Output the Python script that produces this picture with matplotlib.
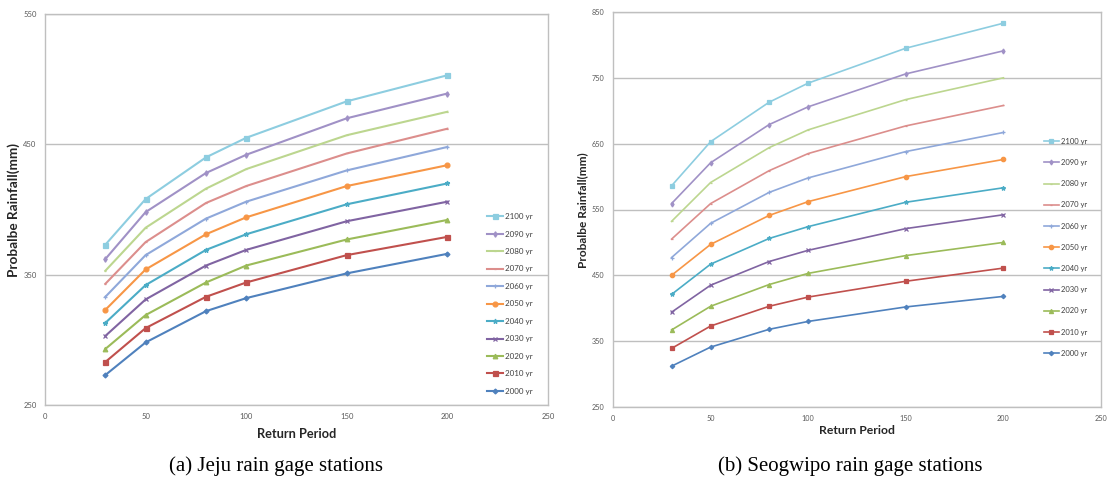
import matplotlib
matplotlib.use("Agg")
import matplotlib.pyplot as plt

return_periods = [30, 50, 80, 100, 150, 200]
series_labels = ["2100 yr", "2090 yr", "2080 yr", "2070 yr", "2060 yr",
                 "2050 yr", "2040 yr", "2030 yr", "2020 yr", "2010 yr", "2000 yr"]

jeju = {
    "2100 yr": [373, 408, 440, 455, 483, 503],
    "2090 yr": [362, 398, 428, 442, 470, 489],
    "2080 yr": [353, 386, 416, 431, 457, 475],
    "2070 yr": [343, 375, 405, 418, 443, 462],
    "2060 yr": [333, 365, 393, 406, 430, 448],
    "2050 yr": [323, 354, 381, 394, 418, 434],
    "2040 yr": [313, 342, 369, 381, 404, 420],
    "2030 yr": [303, 331, 357, 369, 391, 406],
    "2020 yr": [293, 319, 344, 357, 377, 392],
    "2010 yr": [283, 309, 333, 344, 365, 379],
    "2000 yr": [273, 298, 322, 332, 351, 366],
}

seogwipo = {
    "2100 yr": [586, 653, 713, 742, 795, 833],
    "2090 yr": [559, 621, 679, 706, 756, 791],
    "2080 yr": [532, 591, 644, 671, 717, 750],
    "2070 yr": [505, 559, 609, 635, 677, 708],
    "2060 yr": [477, 529, 576, 598, 638, 667],
    "2050 yr": [450, 497, 541, 562, 600, 626],
    "2040 yr": [421, 467, 506, 524, 561, 583],
    "2030 yr": [394, 435, 471, 488, 521, 542],
    "2020 yr": [367, 403, 436, 453, 480, 500],
    "2010 yr": [339, 373, 403, 417, 441, 461],
    "2000 yr": [312, 341, 368, 380, 402, 418],
}

captions = ["(a) Jeju rain gage stations", "(b) Seogwipo rain gage stations"]

colors = {
    "2000 yr": "#4F81BD", "2010 yr": "#C0504D", "2020 yr": "#9BBB59",
    "2030 yr": "#8064A2", "2040 yr": "#4BACC6", "2050 yr": "#F79646",
    "2060 yr": "#8FA8DA", "2070 yr": "#DC8E8C", "2080 yr": "#BCD68F",
    "2090 yr": "#A091C6", "2100 yr": "#8DCDE0",
}
markers = {
    "2000 yr": "D", "2010 yr": "s", "2020 yr": "^", "2030 yr": "x",
    "2040 yr": "*", "2050 yr": "o", "2060 yr": "+", "2070 yr": "_",
    "2080 yr": "_", "2090 yr": "d", "2100 yr": "s",
}
msizes = {
    "2000 yr": 2.5, "2010 yr": 3.6, "2020 yr": 3.3, "2030 yr": 2.8,
    "2040 yr": 3.5, "2050 yr": 3.5, "2060 yr": 3, "2070 yr": 2,
    "2080 yr": 2, "2090 yr": 2.8, "2100 yr": 3.6,
}

W, H = 1111, 479
fig = plt.figure(figsize=(W / 100, H / 100), dpi=100)

def px_axes(x0, y0, x1, y1):
    return fig.add_axes([x0 / W, 1 - y1 / H, (x1 - x0) / W, (y1 - y0) / H])

grid_c = "#BFBFBF"
tick_c = "#595959"

configs = [
    dict(data=jeju, box=(45, 14, 548, 405), ylim=(250, 550), lw=1.5, msc=1.0,
         tickfs=5.5, ylabfs=9.8, xlabfs=9.2, legfs=5.8,
         leg_anchor=(483 / W, 1 - 209 / H),
         leg_spacing=1.3, ylabel_x=14, xlabel_y=434, cap_x=276),
    dict(data=seogwipo, box=(613, 12, 1101, 407), ylim=(250, 850), lw=1.2, msc=0.9,
         tickfs=5.2, ylabfs=8.6, xlabfs=8.8, legfs=5.5,
         leg_anchor=(1040 / W, 1 - 134 / H),
         leg_spacing=1.86, ylabel_x=583, xlabel_y=430, cap_x=850),
]

for cfg, cap in zip(configs, captions):
    x0, y0, x1, y1 = cfg["box"]
    ax = px_axes(x0, y0, x1, y1)
    handles = []
    for lab in series_labels:
        h, = ax.plot(return_periods, cfg["data"][lab], color=colors[lab],
                     lw=cfg["lw"], marker=markers[lab],
                     ms=msizes[lab] * cfg["msc"], mew=0.9, label=lab)
        handles.append(h)
    ax.set_xlim(0, 250)
    ax.set_ylim(*cfg["ylim"])
    ax.set_xticks([0, 50, 100, 150, 200, 250])
    ax.set_yticks(range(cfg["ylim"][0], cfg["ylim"][1] + 1, 100))
    ax.yaxis.grid(True, color=grid_c, lw=1.0)
    ax.set_axisbelow(True)
    for s in ax.spines.values():
        s.set_color(grid_c)
        s.set_linewidth(1.0)
    ax.tick_params(axis="both", length=0, labelsize=cfg["tickfs"],
                   labelcolor=tick_c, pad=6)
    for t in ax.get_xticklabels() + ax.get_yticklabels():
        t.set_fontfamily("Lato")
    leg = ax.legend(handles=handles, loc="upper left",
                    bbox_to_anchor=cfg["leg_anchor"],
                    bbox_transform=fig.transFigure, frameon=False,
                    prop={"family": "Lato", "size": cfg["legfs"]},
                    handlelength=2.0, handletextpad=0.2,
                    labelspacing=cfg["leg_spacing"], borderpad=0)
    for t in leg.get_texts():
        t.set_color("#404040")
    fig.text(cfg["ylabel_x"] / W, 1 - 210 / H, "Probalbe Rainfall(mm)",
             rotation=90, ha="center", va="center", fontsize=cfg["ylabfs"],
             fontweight="bold", family="Lato", color="#262626")
    fig.text(((x0 + x1) / 2) / W, 1 - cfg["xlabel_y"] / H, "Return Period",
             ha="center", va="center", fontsize=cfg["xlabfs"],
             fontweight="bold", family="Lato", color="#262626")
    fig.text(cfg["cap_x"] / W, 1 - 466 / H, cap, ha="center", va="center",
             fontsize=15, family="Liberation Serif", color="black")

fig.savefig("out.png", dpi=100)
